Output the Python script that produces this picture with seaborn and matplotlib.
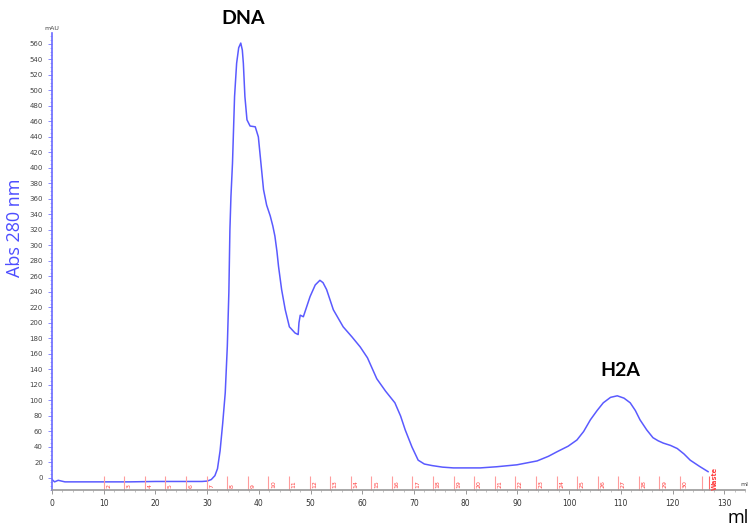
import matplotlib
matplotlib.use("Agg")
import matplotlib.pyplot as plt
import seaborn as sns
import pandas as pd
from matplotlib.ticker import MultipleLocator

# chromatogram trace (ml, mAU)
volume_ml = [
    0.0, 0.5, 1.2, 2.5, 5, 10, 15, 20, 25, 29, 30, 30.8, 31.5, 32.0, 32.5,
    33.0, 33.5, 33.9, 34.2, 34.4, 34.6, 34.9, 35.1, 35.3, 35.7, 36.1, 36.5,
    36.8, 37.0, 37.3, 37.7, 38.3, 39.3, 39.9, 40.4, 40.9, 41.5, 42.2, 42.7,
    43.1, 43.5, 43.8, 44.4, 45.1, 45.9, 47.0, 47.6, 47.75, 48.0, 48.6, 49.2,
    49.9, 50.9, 51.8, 52.4, 53.1, 54.4, 56.3, 58.0, 59.6, 61.0, 62.8, 64.5,
    66.3, 67.4, 68.3, 69.6, 70.8, 72.0, 73.5, 75.5, 77.6, 80, 82.8, 86,
    89.9, 93.8, 96, 97.7, 99.8, 101.5, 102.8, 104.1, 105.4, 106.6, 108.0,
    109.3, 110.6, 111.8, 112.8, 113.7, 115.0, 116.2, 117.2, 118.2, 119.6,
    120.9, 122.2, 123.4, 125.2, 126.9,
]
abs_mau = [
    -2, -5, -3, -5, -5, -5, -5, -4.5, -4.5, -4.5, -4, -2, 3, 12, 35,
    70, 110, 170, 240, 320, 363, 406, 449, 492, 535, 555, 561,
    552, 535, 492, 462, 454, 453, 440, 406, 372, 352, 338, 325,
    312, 292, 273, 243, 217, 195, 187, 185, 200, 210, 208, 220,
    234, 249, 255, 252, 243, 217, 195, 182, 169, 155, 128, 112,
    97, 80, 62, 40, 23, 18, 16, 14, 13, 13, 13, 14.5,
    17, 22, 28, 34, 41, 49, 60, 75, 87, 97, 104,
    106, 103, 97, 87, 75, 62, 52, 48, 45, 42,
    38, 31, 23, 15, 8,
]

# fraction collector marks
fraction_labels = [str(k) for k in range(2, 31)] + ["", "Waste"]
fraction_ml = [10 + 3.98 * (k - 2) for k in range(2, 31)] + [125.7, 127.1]

x_ticks = list(range(0, 131, 10))
y_ticks = list(range(0, 561, 20))

df = pd.DataFrame({"ml": volume_ml, "mAU": abs_mau})

sns.set_style("white")
plt.rcParams["font.family"] = ["DejaVu Sans"]

fig = plt.figure(figsize=(7.49, 5.28), dpi=100)
ax = fig.add_axes([52 / 749, 38 / 528, 693 / 749, 457 / 528])

sns.lineplot(data=df, x="ml", y="mAU", sort=False, estimator=None,
             color="#5a5aff", linewidth=1.1, ax=ax)

# fraction lines with rotated labels
for pos, lab in zip(fraction_ml, fraction_labels):
    bold = lab == "Waste"
    ax.plot([pos, pos], [-15.5, 2.6], color="#ff6666" if bold else "#ff9c9c",
            linewidth=0.8, solid_capstyle="butt", clip_on=False)
    if lab:
        ax.text(pos + 0.5, -13 if not bold else -15, lab, rotation=90,
                fontsize=4.5 if not bold else 4.8, color="#ff4040",
                ha="left", va="bottom",
                fontweight="bold" if bold else "normal")

ax.set_xlim(0, 134)
ax.set_ylim(-15.5, 574)
ax.set_xticks(x_ticks)
ax.set_yticks(y_ticks)
ax.xaxis.set_minor_locator(MultipleLocator(2))
ax.yaxis.set_minor_locator(MultipleLocator(5))
ax.tick_params(axis="both", which="major", labelsize=5.5, colors="#555555",
               length=3, width=0.6, direction="out", bottom=True, left=True)
ax.tick_params(axis="both", which="minor", length=1.5, width=0.5,
               colors="#9999ff", bottom=False, left=True)
ax.tick_params(axis="x", which="minor", bottom=True, colors="#aaaaaa")
ax.tick_params(axis="y", which="major", colors="#7777ff",
               labelcolor="#444444", labelsize=5)
ax.tick_params(axis="x", which="major", colors="#888888",
               labelcolor="#333333")
ax.set_xlabel("")
ax.set_ylabel("")

for side in ["top", "right"]:
    ax.spines[side].set_visible(False)
ax.spines["left"].set_color("#6a6aff")
ax.spines["left"].set_linewidth(1.2)
ax.spines["bottom"].set_color("#999999")
ax.spines["bottom"].set_linewidth(1.2)

ax.text(0, 576, "mAU", fontsize=4.5, color="#444444", ha="center", va="bottom")
fig.text(748 / 749, 1 - 487 / 528, "ml", fontsize=4.5, color="#444444",
         ha="right", va="bottom")

ax.text(36.9, 593, "DNA", fontsize=14, fontweight="bold", ha="center",
        va="center", color="black", family=["Lato", "DejaVu Sans"],
        clip_on=False)
ax.text(109.9, 139, "H2A", fontsize=14, fontweight="bold", ha="center",
        va="center", color="black", family=["Lato", "DejaVu Sans"])

fig.text(15 / 749, 1 - 228 / 528, "Abs 280 nm", rotation=90, fontsize=13,
         color="#4d4dff", ha="center", va="center",
         family=["Open Sans", "DejaVu Sans"])
fig.text(738 / 749, 1 - 518 / 528, "ml", fontsize=13, color="black",
         ha="center", va="center", family=["Open Sans", "DejaVu Sans"])

fig.savefig("out.png", dpi=100)
